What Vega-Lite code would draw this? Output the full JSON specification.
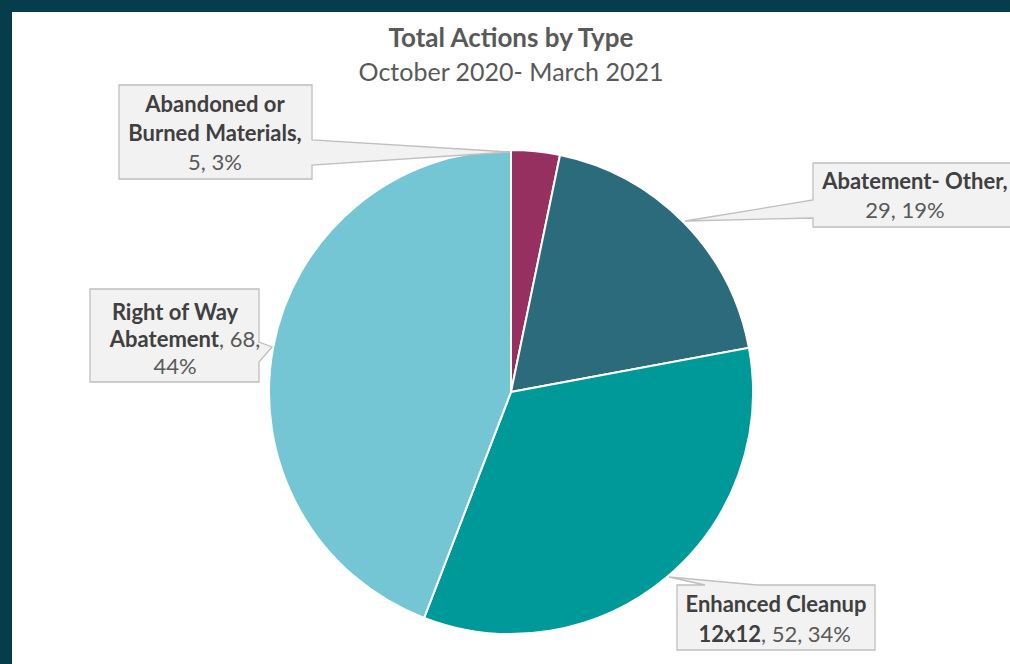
{
  "$schema": "https://vega.github.io/schema/vega-lite/v6.json",
  "background": "#063d4c",
  "padding": {"left": 12, "top": 12, "right": 0, "bottom": 0},
  "spacing": 0,
  "bounds": "flush",
  "config": {"view": {"fill": "#ffffff", "stroke": null, "strokeWidth": 0}, "font": "Lato"},
  "datasets": {
    "actions": [
      {"cat": "Abandoned or Burned Materials", "value": 5, "pct": "3%", "l1": "Abandoned or", "l2": "Burned Materials,", "v": "5, 3%"},
      {"cat": "Abatement- Other", "value": 29, "pct": "19%", "l1": "Abatement- Other,", "v": "29, 19%"},
      {"cat": "Enhanced Cleanup 12x12", "value": 52, "pct": "34%", "l1": "Enhanced Cleanup", "l2": "12x12", "v": ", 52, 34%"},
      {"cat": "Right of Way Abatement", "value": 68, "pct": "44%", "l1": "Right of Way", "l2": "Abatement", "v": ", 68,", "v2": "44%"}
    ]
  },
  "vconcat": [
    {
      "width": 998,
      "height": 108,
      "view": {"fill": "#ffffff", "stroke": null, "strokeWidth": 0},
      "title": {
        "text": "Total Actions by Type",
        "subtitle": "October 2020- March 2021",
        "anchor": "middle",
        "offset": -74,
        "font": "Lato",
        "fontSize": 26,
        "fontWeight": "bold",
        "color": "#595959",
        "subtitleFont": "Lato",
        "subtitleFontSize": 25,
        "subtitleColor": "#595959",
        "subtitlePadding": 9
      },
      "data": {"values": [{}]},
      "mark": {"type": "text", "text": ""}
    },
    {
      "width": 998,
      "height": 544,
      "view": {"fill": "#ffffff", "stroke": null, "strokeWidth": 0},
      "data": {"name": "actions"},
      "layer": [
        {
          "mark": {"type": "arc", "outerRadius": 242, "stroke": "#ffffff", "strokeWidth": 2},
          "encoding": {
            "theta": {"field": "value", "type": "quantitative", "stack": true},
            "color": {
              "field": "cat",
              "type": "nominal",
              "scale": {
                "domain": ["Abandoned or Burned Materials", "Abatement- Other", "Enhanced Cleanup 12x12", "Right of Way Abatement"],
                "range": ["#953060", "#2c6b7b", "#009999", "#74c6d4"]
              },
              "legend": null
            },
            "order": {"field": "cat", "type": "nominal", "sort": "ascending"}
          }
        },
        {
          "transform": [{"filter": "datum.cat === 'Abandoned or Burned Materials'"}],
          "mark": {"type": "point", "shape": "M-392,-307H-199V-252L-1,-240L-199,-227V-213H-392Z", "size": 4, "filled": true, "fill": "#f2f2f2", "stroke": "#bfbfbf", "strokeWidth": 1.3, "opacity": 1},
          "encoding": {}
        },
        {
          "transform": [{"filter": "datum.cat === 'Abatement- Other'"}],
          "mark": {"type": "point", "clip": true, "shape": "M302,-229H510V-165H302V-174L174,-171L302,-192Z", "size": 4, "filled": true, "fill": "#f2f2f2", "stroke": "#bfbfbf", "strokeWidth": 1.3, "opacity": 1},
          "encoding": {}
        },
        {
          "transform": [{"filter": "datum.cat === 'Enhanced Cleanup 12x12'"}],
          "mark": {"type": "point", "shape": "M166,193H194L158,185L246,193H364V258H166Z", "size": 4, "filled": true, "fill": "#f2f2f2", "stroke": "#bfbfbf", "strokeWidth": 1.3, "opacity": 1},
          "encoding": {}
        },
        {
          "transform": [{"filter": "datum.cat === 'Right of Way Abatement'"}],
          "mark": {"type": "point", "shape": "M-421,-103H-252V-50L-239,-45L-252,-30V-10H-421Z", "size": 4, "filled": true, "fill": "#f2f2f2", "stroke": "#bfbfbf", "strokeWidth": 1.3, "opacity": 1},
          "encoding": {}
        },
        {
          "transform": [{"filter": "datum.cat === 'Abandoned or Burned Materials'"}],
          "mark": {"type": "text", "dx": -296, "dy": -280, "align": "center", "baseline": "alphabetic", "fontSize": 22, "fontWeight": "bold", "color": "#404040"},
          "encoding": {"text": {"field": "l1"}}
        },
        {
          "transform": [{"filter": "datum.cat === 'Abandoned or Burned Materials'"}],
          "mark": {"type": "text", "dx": -296, "dy": -251, "align": "center", "baseline": "alphabetic", "fontSize": 22, "fontWeight": "bold", "color": "#404040"},
          "encoding": {"text": {"field": "l2"}}
        },
        {
          "transform": [{"filter": "datum.cat === 'Abandoned or Burned Materials'"}],
          "mark": {"type": "text", "dx": -296, "dy": -222, "align": "center", "baseline": "alphabetic", "fontSize": 22, "color": "#595959"},
          "encoding": {"text": {"field": "v"}}
        },
        {
          "transform": [{"filter": "datum.cat === 'Abatement- Other'"}],
          "mark": {"type": "text", "clip": true, "dx": 404, "dy": -203, "align": "center", "baseline": "alphabetic", "fontSize": 22, "fontWeight": "bold", "color": "#404040"},
          "encoding": {"text": {"field": "l1"}}
        },
        {
          "transform": [{"filter": "datum.cat === 'Abatement- Other'"}],
          "mark": {"type": "text", "clip": true, "dx": 394, "dy": -174, "align": "center", "baseline": "alphabetic", "fontSize": 22, "color": "#595959"},
          "encoding": {"text": {"field": "v"}}
        },
        {
          "transform": [{"filter": "datum.cat === 'Enhanced Cleanup 12x12'"}],
          "mark": {"type": "text", "dx": 265, "dy": 220, "align": "center", "baseline": "alphabetic", "fontSize": 22, "fontWeight": "bold", "color": "#404040"},
          "encoding": {"text": {"field": "l1"}}
        },
        {
          "transform": [{"filter": "datum.cat === 'Enhanced Cleanup 12x12'"}],
          "mark": {"type": "text", "dx": 250, "dy": 250, "align": "right", "baseline": "alphabetic", "fontSize": 22, "fontWeight": "bold", "color": "#404040"},
          "encoding": {"text": {"field": "l2"}}
        },
        {
          "transform": [{"filter": "datum.cat === 'Enhanced Cleanup 12x12'"}],
          "mark": {"type": "text", "dx": 250, "dy": 250, "align": "left", "baseline": "alphabetic", "fontSize": 22, "color": "#595959"},
          "encoding": {"text": {"field": "v"}}
        },
        {
          "transform": [{"filter": "datum.cat === 'Right of Way Abatement'"}],
          "mark": {"type": "text", "dx": -336, "dy": -72, "align": "center", "baseline": "alphabetic", "fontSize": 22, "fontWeight": "bold", "color": "#404040"},
          "encoding": {"text": {"field": "l1"}}
        },
        {
          "transform": [{"filter": "datum.cat === 'Right of Way Abatement'"}],
          "mark": {"type": "text", "dx": -292, "dy": -45, "align": "right", "baseline": "alphabetic", "fontSize": 22, "fontWeight": "bold", "color": "#404040"},
          "encoding": {"text": {"field": "l2"}}
        },
        {
          "transform": [{"filter": "datum.cat === 'Right of Way Abatement'"}],
          "mark": {"type": "text", "dx": -292, "dy": -45, "align": "left", "baseline": "alphabetic", "fontSize": 22, "color": "#595959"},
          "encoding": {"text": {"field": "v"}}
        },
        {
          "transform": [{"filter": "datum.cat === 'Right of Way Abatement'"}],
          "mark": {"type": "text", "dx": -336, "dy": -18, "align": "center", "baseline": "alphabetic", "fontSize": 22, "color": "#595959"},
          "encoding": {"text": {"field": "v2"}}
        }
      ]
    }
  ]
}
